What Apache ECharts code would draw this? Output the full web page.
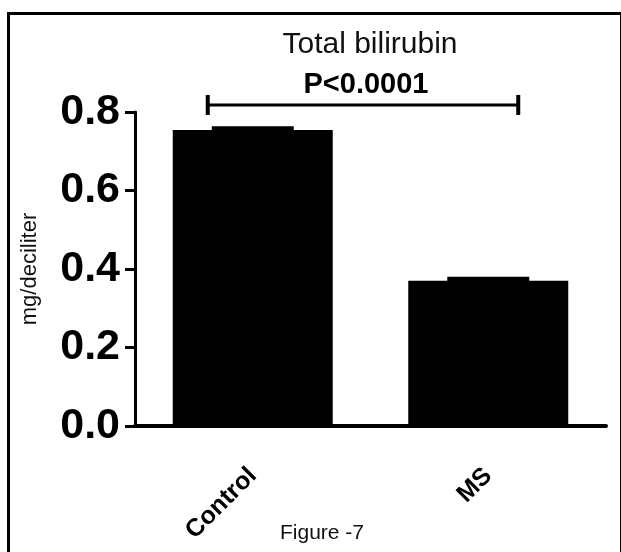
<!DOCTYPE html>
<html>
<head>
<meta charset="utf-8">
<style>
  html, body { margin: 0; padding: 0; background: #fff; }
  #chart { width: 621px; height: 552px; }
</style>
<script src="https://cdn.jsdelivr.net/npm/echarts@6/dist/echarts.min.js"></script>
</head>
<body>
<div id="chart"></div>
<script>
const categories = ['Control', 'MS'];
const means = [0.754, 0.370];
const sems = [0.010, 0.010];
const yTicks = { min: 0, max: 0.8, interval: 0.2 };
const bracket = [[0, 1, 0.818]];
const pText = 'P<0.0001';
const titleText = 'Total bilirubin';
const yName = 'mg/deciliter';
const caption = 'Figure -7';

const chart = echarts.init(document.getElementById('chart'), null, { renderer: 'canvas' });

const errData = categories.map((c, i) => [i, means[i], sems[i]]);

const option = {
  animation: false,
  backgroundColor: '#ffffff',
  title: [
    {
      text: titleText, left: 365, top: 25, textAlign: 'center',
      textStyle: { fontFamily: 'Liberation Sans', fontSize: 30, fontWeight: 'normal', color: '#111' }
    },
    {
      text: pText, left: 361, top: 65, textAlign: 'center',
      textStyle: { fontFamily: 'Liberation Sans', fontSize: 29, fontWeight: 'bold', color: '#000' }
    }
  ],
  graphic: [
    {
      type: 'rect', left: 6, top: 11, z: -1, silent: true,
      shape: { width: 613, height: 600 },
      style: { fill: 'none', stroke: '#000', lineWidth: 3 }
    },
    {
      type: 'text', left: 280, top: 523, silent: true,
      style: { text: caption, fontFamily: 'Liberation Sans', fontSize: 21, fill: '#111' }
    }
  ],
  grid: { left: 135, right: 15, top: 112, bottom: 126, containLabel: false },
  xAxis: {
    type: 'category',
    data: categories,
    axisLine: { lineStyle: { color: '#000', width: 4 } },
    axisTick: { alignWithLabel: true, length: 12, lineStyle: { color: '#000', width: 3 } },
    axisLabel: {
      rotate: 45, margin: 46, color: '#000',
      fontFamily: 'Liberation Sans', fontSize: 25, fontWeight: 'bold'
    },
    splitLine: { show: false }
  },
  yAxis: {
    type: 'value',
    min: yTicks.min, max: yTicks.max, interval: yTicks.interval,
    name: yName, nameLocation: 'middle', nameGap: 94, nameRotate: 90,
    nameTextStyle: { fontFamily: 'Liberation Sans', fontSize: 22, color: '#111' },
    axisLine: { show: true, lineStyle: { color: '#000', width: 3 } },
    axisTick: { show: true, length: 10, lineStyle: { color: '#000', width: 3 } },
    axisLabel: {
      margin: 15, color: '#000',
      fontFamily: 'Liberation Sans', fontSize: 43, fontWeight: 'bold',
      formatter: v => v.toFixed(1)
    },
    splitLine: { show: false }
  },
  series: [
    {
      type: 'bar', data: means, barWidth: 160,
      itemStyle: { color: '#000' }, z: 2
    },
    {
      type: 'custom', data: errData, z: 3, clip: false,
      renderItem: function (params, api) {
        const idx = api.value(0);
        const m = api.value(1);
        const e = api.value(2);
        const top = api.coord([idx, m + e]);
        const base = api.coord([idx, m]);
        return {
          type: 'rect',
          shape: { x: top[0] - 41, y: top[1], width: 82, height: base[1] - top[1] + 1 },
          style: { fill: '#000' }
        };
      }
    },
    {
      type: 'custom', data: bracket, z: 4, clip: false,
      renderItem: function (params, api) {
        const a = api.coord([api.value(0), api.value(2)]);
        const b = api.coord([api.value(1), api.value(2)]);
        const x0 = a[0] - 45, x1 = b[0] + 30, y = a[1];
        return {
          type: 'group',
          children: [
            { type: 'line', shape: { x1: x0, y1: y, x2: x1, y2: y }, style: { stroke: '#000', lineWidth: 3 } },
            { type: 'line', shape: { x1: x0, y1: y - 10, x2: x0, y2: y + 10 }, style: { stroke: '#000', lineWidth: 4 } },
            { type: 'line', shape: { x1: x1, y1: y - 10, x2: x1, y2: y + 10 }, style: { stroke: '#000', lineWidth: 4 } }
          ]
        };
      }
    }
  ]
};

chart.setOption(option);
</script>
</body>
</html>
